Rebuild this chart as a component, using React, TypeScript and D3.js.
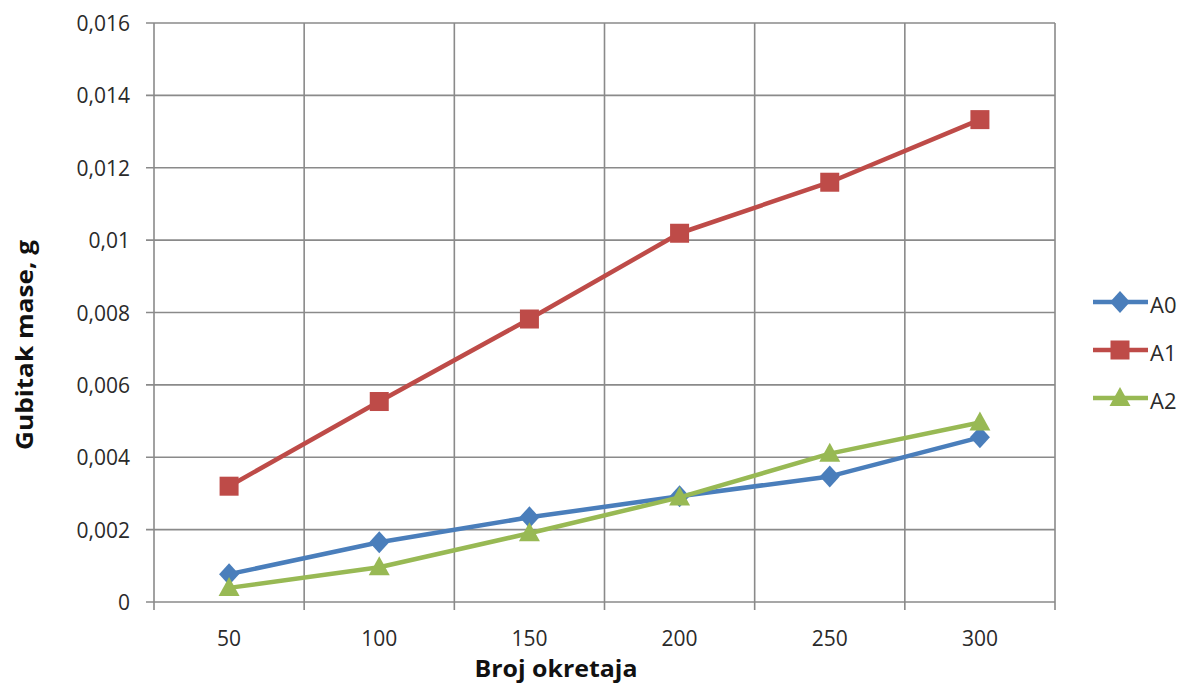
import React from "react";
import * as d3 from "d3";

const categories = ["50", "100", "150", "200", "250", "300"];
const seriesNames = ["A0", "A1", "A2"];
const a0 = [0.00077, 0.00165, 0.00234, 0.00292, 0.00347, 0.00455];
const a1 = [0.0032, 0.00554, 0.00782, 0.01019, 0.0116, 0.01333];
const a2 = [0.00039, 0.00096, 0.0019, 0.00289, 0.0041, 0.00496];
const yTicks = [0, 0.002, 0.004, 0.006, 0.008, 0.01, 0.012, 0.014, 0.016];
const colors = ["#4A7EBB", "#BE4B48", "#98B954"];
const markers = ["diamond", "square", "triangle"];

const W = 1186, H = 688;
const L = 154, R = 1055, T = 23, B = 602;
const FONT = "'Open Sans', Lato, sans-serif";

function fmt(v: number) {
  if (v === 0) return "0";
  const s = String(+v.toFixed(3));
  return s.replace(".", ",");
}

function Marker({ type, x, y, color }: { type: string; x: number; y: number; color: string }) {
  if (type === "diamond") {
    return (
      <path d={`M${x},${y - 11}L${x + 10},${y}L${x},${y + 11}L${x - 10},${y}Z`} fill={color} />
    );
  }
  if (type === "square") {
    return <rect x={x - 9.5} y={y - 9.5} width={19} height={19} fill={color} />;
  }
  return <path d={`M${x},${y - 11}L${x + 10.5},${y + 8}L${x - 10.5},${y + 8}Z`} fill={color} />;
}

export default function App() {
  const x = d3.scaleBand().domain(categories).range([L, R]);
  const y = d3.scaleLinear().domain([0, 0.016]).range([B, T]);
  const data = [a0, a1, a2];
  const cx = (c: string) => (x(c) as number) + x.bandwidth() / 2;
  const line = d3
    .line<number>()
    .x((_, i) => cx(categories[i]))
    .y((d) => y(d));
  const xEdges = categories.map((c) => x(c) as number).concat([R]);
  const legendY = [302, 350, 398];

  return (
    <svg width={W} height={H} style={{ position: "absolute", left: 0, top: 0, background: "#fff" }}>
      {yTicks.map((t) => (
        <g key={"y" + t}>
          <line x1={L - 8} x2={R} y1={y(t)} y2={y(t)} stroke="#8a8a8a" strokeWidth={1.6} />
          <text x={130} y={y(t) + 8} textAnchor="end" fontFamily={FONT} fontSize={21} fill="#2a2a2a">
            {fmt(t)}
          </text>
        </g>
      ))}
      {xEdges.map((e, i) => (
        <line key={"x" + i} x1={e} x2={e} y1={T} y2={B + 8} stroke="#8a8a8a" strokeWidth={1.6} />
      ))}
      {categories.map((c) => (
        <text key={"xl" + c} x={cx(c)} y={646} textAnchor="middle" fontFamily={FONT} fontSize={21} fill="#2a2a2a">
          {c}
        </text>
      ))}
      {data.map((d, si) => (
        <g key={"s" + si}>
          <path d={line(d) as string} fill="none" stroke={colors[si]} strokeWidth={4.5} strokeLinejoin="round" />
          {d.map((v, i) => (
            <Marker key={i} type={markers[si]} x={cx(categories[i])} y={y(v)} color={colors[si]} />
          ))}
        </g>
      ))}
      {seriesNames.map((n, i) => (
        <g key={"lg" + n}>
          <line x1={1093} x2={1148} y1={legendY[i]} y2={legendY[i]} stroke={colors[i]} strokeWidth={4.5} />
          <Marker type={markers[i]} x={1120} y={legendY[i]} color={colors[i]} />
          <text x={1150} y={legendY[i] + 11} fontFamily={FONT} fontSize={22} fill="#2a2a2a">
            {n}
          </text>
        </g>
      ))}
      <text
        x={556}
        y={677}
        textAnchor="middle"
        fontFamily={FONT}
        fontSize={24}
        fontWeight="bold"
        fill="#111"
        textLength={163}
        lengthAdjust="spacingAndGlyphs"
      >
        Broj okretaja
      </text>
      <text
        transform={`translate(33,345) rotate(-90)`}
        textAnchor="middle"
        fontFamily={FONT}
        fontSize={24}
        fontWeight="bold"
        fill="#111"
        textLength={210}
        lengthAdjust="spacingAndGlyphs"
      >
        Gubitak mase, g
      </text>
    </svg>
  );
}
